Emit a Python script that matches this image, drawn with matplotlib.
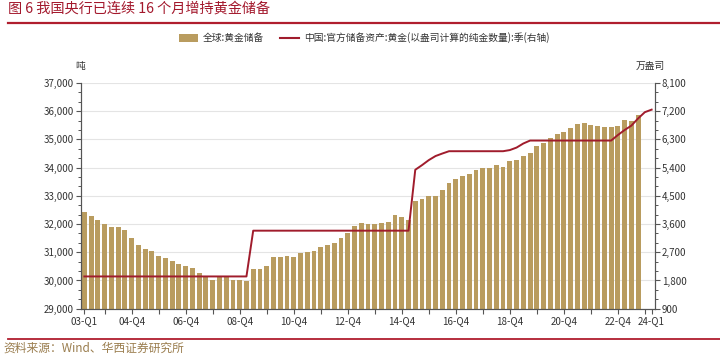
import matplotlib
matplotlib.use('Agg')
import matplotlib.pyplot as plt
from matplotlib.patches import Patch
from matplotlib.lines import Line2D
from matplotlib.ticker import FuncFormatter, MultipleLocator
import numpy as np

plt.rcParams['font.family'] = ['Noto Sans CJK SC', 'DejaVu Sans']

# categories: quarters 03-Q1 .. 24-Q1
quarters = [f"{y:02d}-Q{q}" for y in range(3, 25) for q in range(1, 5)][:85]

# global gold reserves (tonnes), 03-Q1 .. 23-Q3
global_gold = [32418, 32287, 32135, 32004, 31886, 31886, 31791, 31496, 31259, 31117,
               31046, 30885, 30790, 30695, 30580, 30514, 30433, 30270, 30130, 30010,
               30124, 30110, 30010, 30000, 29965, 30397, 30418, 30514, 30844, 30844,
               30857, 30822, 30975, 31011, 31046, 31188, 31270, 31340, 31507, 31674,
               31933, 32028, 32015, 32015, 32028, 32085, 32312, 32260, 32145, 32819,
               32895, 33010, 33010, 33220, 33468, 33589, 33706, 33766, 33925, 33985,
               33985, 34109, 34014, 34227, 34268, 34420, 34527, 34770, 34880, 35035,
               35184, 35277, 35397, 35555, 35585, 35514, 35468, 35454, 35443, 35479,
               35685, 35650, 35862]

# China official gold reserves (10k oz), 03-Q1 .. 24-Q1
china_gold = [1929, 1929, 1929, 1929, 1929, 1929, 1929, 1929, 1929, 1929,
              1929, 1929, 1929, 1929, 1929, 1929, 1929, 1929, 1929, 1929,
              1929, 1929, 1929, 1929, 1929, 3389, 3389, 3389, 3389, 3389,
              3389, 3389, 3389, 3389, 3389, 3389, 3389, 3389, 3389, 3389,
              3389, 3389, 3389, 3389, 3389, 3389, 3389, 3389, 3389, 5332,
              5480, 5640, 5770, 5850, 5924, 5924, 5924, 5924, 5924, 5924,
              5924, 5924, 5924, 5960, 6040, 6170, 6264, 6264, 6264, 6264,
              6264, 6264, 6264, 6264, 6264, 6264, 6264, 6264, 6264, 6440,
              6600, 6740, 6970, 7170, 7250]

label_quarters = ["03-Q1", "04-Q4", "06-Q4", "08-Q4", "10-Q4", "12-Q4",
                  "14-Q4", "16-Q4", "18-Q4", "20-Q4", "22-Q4", "24-Q1"]

BAR_COLOR = '#b99c5f'
LINE_COLOR = '#a01c2c'
TITLE_RED = '#a3182c'
AX_COLOR = '#555555'
TXT = '#333333'

fig = plt.figure(figsize=(7.2, 3.56), dpi=100)
ax = fig.add_axes([81/720, 1-308.7/356, (655-81)/720, (308.7-83)/356])
ax2 = ax.twinx()

xb = np.arange(len(global_gold))
xl = np.arange(len(china_gold))
ax.bar(xb, global_gold, width=0.72, color=BAR_COLOR, zorder=2)
ax2.plot(xl, china_gold, color=LINE_COLOR, lw=1.4, zorder=3)

ax.set_xlim(-0.5, 84.5)
ax.set_ylim(29000, 37000)
ax2.set_ylim(900, 8100)
ax.yaxis.set_major_locator(MultipleLocator(1000))
ax.yaxis.set_minor_locator(MultipleLocator(1000/3))
ax2.yaxis.set_major_locator(MultipleLocator(900))
ax2.yaxis.set_minor_locator(MultipleLocator(300))
fmt = FuncFormatter(lambda v, p: f"{int(round(v)):,}")
ax.yaxis.set_major_formatter(fmt)
ax2.yaxis.set_major_formatter(fmt)

ax.grid(axis='y', color='#e4e4e4', lw=0.8, zorder=0)
ax.set_axisbelow(True)

# x ticks: at every Q4 plus first and last, labels at selected quarters
tick_pos = [0] + [i for i, q in enumerate(quarters) if q.endswith('Q4')] + [84]
tick_lab = [quarters[i] if quarters[i] in label_quarters else '' for i in tick_pos]
ax.set_xticks(tick_pos)
ax.set_xticklabels(tick_lab)

for s in ['top']:
    ax.spines[s].set_visible(False)
    ax2.spines[s].set_visible(False)
for a in (ax, ax2):
    for s in ['left', 'right', 'bottom']:
        a.spines[s].set_color(AX_COLOR)
        a.spines[s].set_linewidth(0.8)
ax.tick_params(axis='both', which='major', length=3.5, width=0.8, color=AX_COLOR,
               labelsize=7, labelcolor=TXT, pad=1.5)
ax.tick_params(axis='y', which='minor', length=2.5, width=0.7, color=AX_COLOR)
ax2.tick_params(axis='y', which='major', length=3.5, width=0.8, color=AX_COLOR,
                labelsize=7, labelcolor=TXT, pad=1.5)
ax2.tick_params(axis='y', which='minor', length=2.5, width=0.7, color=AX_COLOR)

# unit labels
fig.text(80/720, 1-66/356, '吨', ha='center', va='center', fontsize=7, color=TXT)
fig.text(650/720, 1-66/356, '万盎司', ha='center', va='center', fontsize=7, color=TXT)

# legend
handles = [Patch(facecolor=BAR_COLOR, edgecolor='none'),
           Line2D([0], [0], color=LINE_COLOR, lw=1.5)]
labels = ['全球:黄金储备', '中国:官方储备资产:黄金(以盎司计算的纯金数量):季(右轴)']
fig.legend(handles, labels, loc='center', bbox_to_anchor=(364/720, 1-38/356),
           ncol=2, frameon=False, fontsize=7, handlelength=2.0, handleheight=0.9,
           columnspacing=1.6, handletextpad=0.5, labelcolor=TXT)

# title and rules
fig.text(8/720, 1-9/356, '图 6 我国央行已连续 16 个月增持黄金储备', ha='left', va='center',
         fontsize=10.2, color=TITLE_RED)
fig.add_artist(Line2D([8/720, 1], [1-22.7/356, 1-22.7/356], color='#b01e2e', lw=1.6))
fig.add_artist(Line2D([8/720, 1], [1-339/356, 1-339/356], color='#b01e2e', lw=1.3))
fig.text(3/720, 1-348/356, '资料来源：Wind、华西证券研究所', ha='left', va='center',
         fontsize=8.5, color='#9a7d4e')

fig.savefig('out.png', dpi=100)
